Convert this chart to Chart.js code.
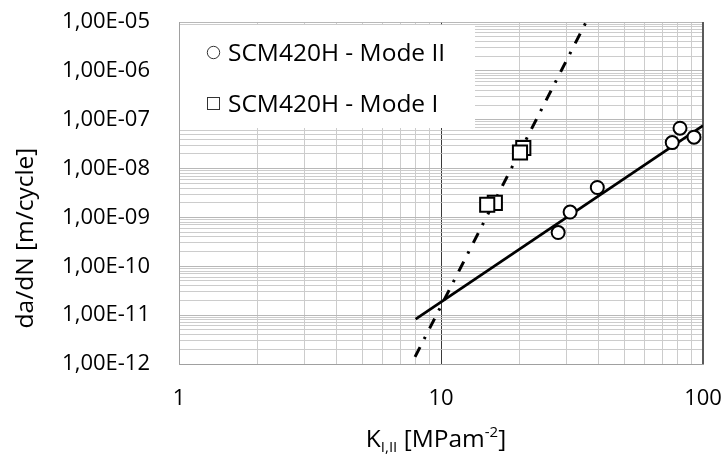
<!DOCTYPE html>
<html><head><meta charset="utf-8">
<script src="https://cdn.jsdelivr.net/npm/chart.js@4.4.1/dist/chart.umd.min.js"></script>
<style>html,body{margin:0;padding:0;background:#fff;}#wrap{width:725px;height:457px;position:relative;}</style>
</head><body><div id="wrap"><canvas id="c" width="725" height="457"></canvas></div>
<script>
// ---- data ----
const modeIIK    = [28.0, 31.1, 39.5, 76.3, 81.7, 92.4];
const modeIIRate = [4.9e-10, 1.29e-9, 4.1e-9, 3.4e-8, 6.7e-8, 4.4e-8];
const modeIK     = [16.05, 15.01, 20.61, 20.02];
const modeIRate  = [1.99e-9, 1.82e-9, 2.64e-8, 2.13e-8];
const fitIIK     = [8, 100];
const fitIIRate  = [8.3e-12, 7.6e-8];
const fitIK      = [7.96, 35.8];
const fitIRate   = [1.40e-12, 1.0e-5];
// ---- ticks ----
const xTickValues = [1,2,3,4,5,6,7,8,9,10,20,30,40,50,60,70,80,90,100];
const xLabelValues = [1, 10, 100];
const xTickLabels = ['1', '10', '100'];
const yDecades = [1e-12, 1e-11, 1e-10, 1e-9, 1e-8, 1e-7, 1e-6, 1e-5];
const yTickLabels = ['1,00E-12','1,00E-11','1,00E-10','1,00E-09','1,00E-08','1,00E-07','1,00E-06','1,00E-05'];
const yMinorMultipliers = [1,2,3,4,5,6,7,8,9];
const seriesNames = ['SCM420H - Mode II', 'SCM420H - Mode I'];
const yTitle = 'da/dN [m/cycle]';
const xTitleParts = ['K', 'I,II', ' [MPam', '-2', ']'];

const FONT = "'Open Sans', 'DejaVu Sans', sans-serif";
const toPts = (xs, ys) => xs.map((x, i) => ({x: x, y: ys[i]}));

const yTickValues = [];
yDecades.forEach((d, i) => {
  if (i === yDecades.length - 1) { yTickValues.push(d); return; }
  yMinorMultipliers.forEach(m => yTickValues.push(m * d));
});
const isDecade = v => yDecades.some(d => Math.abs(v / d - 1) < 1e-6);
const noPad = s => { s.paddingLeft = 0; s.paddingRight = 0; s.paddingTop = 0; s.paddingBottom = 0; };

const decor = {
  id: 'decor',
  beforeDatasetsDraw(chart) {
    const ctx = chart.ctx, a = chart.chartArea;
    ctx.save();
    ctx.strokeStyle = '#5a5a5a'; ctx.lineWidth = 2;
    ctx.beginPath(); ctx.moveTo(a.right, a.top); ctx.lineTo(a.right, a.bottom); ctx.stroke();
    ctx.fillStyle = '#ffffff';
    ctx.fillRect(a.left + 1, 25, 475 - a.left - 1, 103);
    ctx.strokeStyle = '#333'; ctx.lineWidth = 1;
    ctx.beginPath(); ctx.arc(213.5, 52.5, 6.2, 0, Math.PI * 2); ctx.stroke();
    ctx.strokeRect(207.5, 97.5, 12, 12);
    ctx.fillStyle = '#000'; ctx.font = '24.5px ' + FONT;
    ctx.textAlign = 'left'; ctx.textBaseline = 'alphabetic';
    ctx.fillText(seriesNames[0], 228, 61);
    ctx.fillText(seriesNames[1], 228, 112);
    ctx.restore();
  },
  afterDraw(chart) {
    const ctx = chart.ctx;
    ctx.save();
    ctx.fillStyle = '#000';
    ctx.translate(26, 238); ctx.rotate(-Math.PI / 2);
    ctx.font = '24.5px ' + FONT; ctx.textAlign = 'center'; ctx.textBaseline = 'middle';
    ctx.fillText(yTitle, 0, 0);
    ctx.restore();
    ctx.save();
    ctx.fillStyle = '#000'; ctx.textBaseline = 'alphabetic'; ctx.textAlign = 'left';
    const sizes = [24.5, 15, 24.5, 15, 24.5], dys = [0, 5, 0, -10, 0];
    let w = 0;
    xTitleParts.forEach((t, i) => { ctx.font = sizes[i] + 'px ' + FONT; w += ctx.measureText(t).width; });
    let x = 436 - w / 2; const base = 447;
    xTitleParts.forEach((t, i) => {
      ctx.font = sizes[i] + 'px ' + FONT;
      ctx.fillText(t, x, base + dys[i]);
      x += ctx.measureText(t).width;
    });
    ctx.restore();
  }
};

new Chart(document.getElementById('c'), {
  type: 'scatter',
  data: {
    datasets: [
      { label: seriesNames[0], data: toPts(modeIIK, modeIIRate), pointStyle: 'circle', pointRadius: 6.5,
        pointBackgroundColor: '#fff', pointBorderColor: '#000', pointBorderWidth: 2, showLine: false, order: 1 },
      { label: seriesNames[1], data: toPts(modeIK, modeIRate), pointStyle: 'rect', pointRadius: 10,
        pointBackgroundColor: '#fff', pointBorderColor: '#000', pointBorderWidth: 2, showLine: false, order: 2 },
      { label: 'fit II', data: toPts(fitIIK, fitIIRate), showLine: true, pointRadius: 0,
        borderColor: '#000', borderWidth: 2.8, order: 3 },
      { label: 'fit I', data: toPts(fitIK, fitIRate), showLine: true, pointRadius: 0,
        borderColor: '#000', borderWidth: 3, borderDash: [11, 9, 2.5, 9.5], order: 4 }
    ]
  },
  options: {
    responsive: false, animation: false, devicePixelRatio: 1,
    layout: { autoPadding: false, padding: { top: 22, right: 22, left: 0, bottom: 0 } },
    plugins: { legend: { display: false }, tooltip: { enabled: false } },
    scales: {
      x: {
        type: 'logarithmic', min: 1, max: 100, position: 'bottom',
        afterBuildTicks: s => { s.ticks = xTickValues.map(v => ({ value: v })); },
        afterFit: s => { s.height = 93; noPad(s); },
        ticks: { autoSkip: false, maxRotation: 0, padding: 22, color: '#000',
          font: { family: FONT, size: 22 },
          callback: v => { const k = xLabelValues.indexOf(v); return k >= 0 ? xTickLabels[k] : ''; } },
        grid: { drawTicks: false, lineWidth: 1,
          color: c => (c.tick && c.tick.value === 10) ? '#3a3a3a' : (c.tick && xLabelValues.includes(c.tick.value) ? '#b8b8b8' : '#cccccc') },
        border: { color: '#a0a0a0', width: 1 }
      },
      y: {
        type: 'logarithmic', min: 1e-12, max: 1e-5, position: 'left',
        afterBuildTicks: s => { s.ticks = yTickValues.map(v => ({ value: v })); },
        afterFit: s => { s.width = 179; noPad(s); },
        ticks: { autoSkip: false, padding: 29, color: '#000',
          font: { family: FONT, size: 22 },
          callback: v => { const k = yDecades.findIndex(d => Math.abs(v / d - 1) < 1e-6); return k >= 0 ? yTickLabels[k] : ''; } },
        grid: { drawTicks: false, lineWidth: 1,
          color: c => (c.tick && isDecade(c.tick.value)) ? '#b8b8b8' : '#cccccc' },
        border: { color: '#a0a0a0', width: 1 }
      }
    }
  },
  plugins: [decor]
});
</script></body></html>
